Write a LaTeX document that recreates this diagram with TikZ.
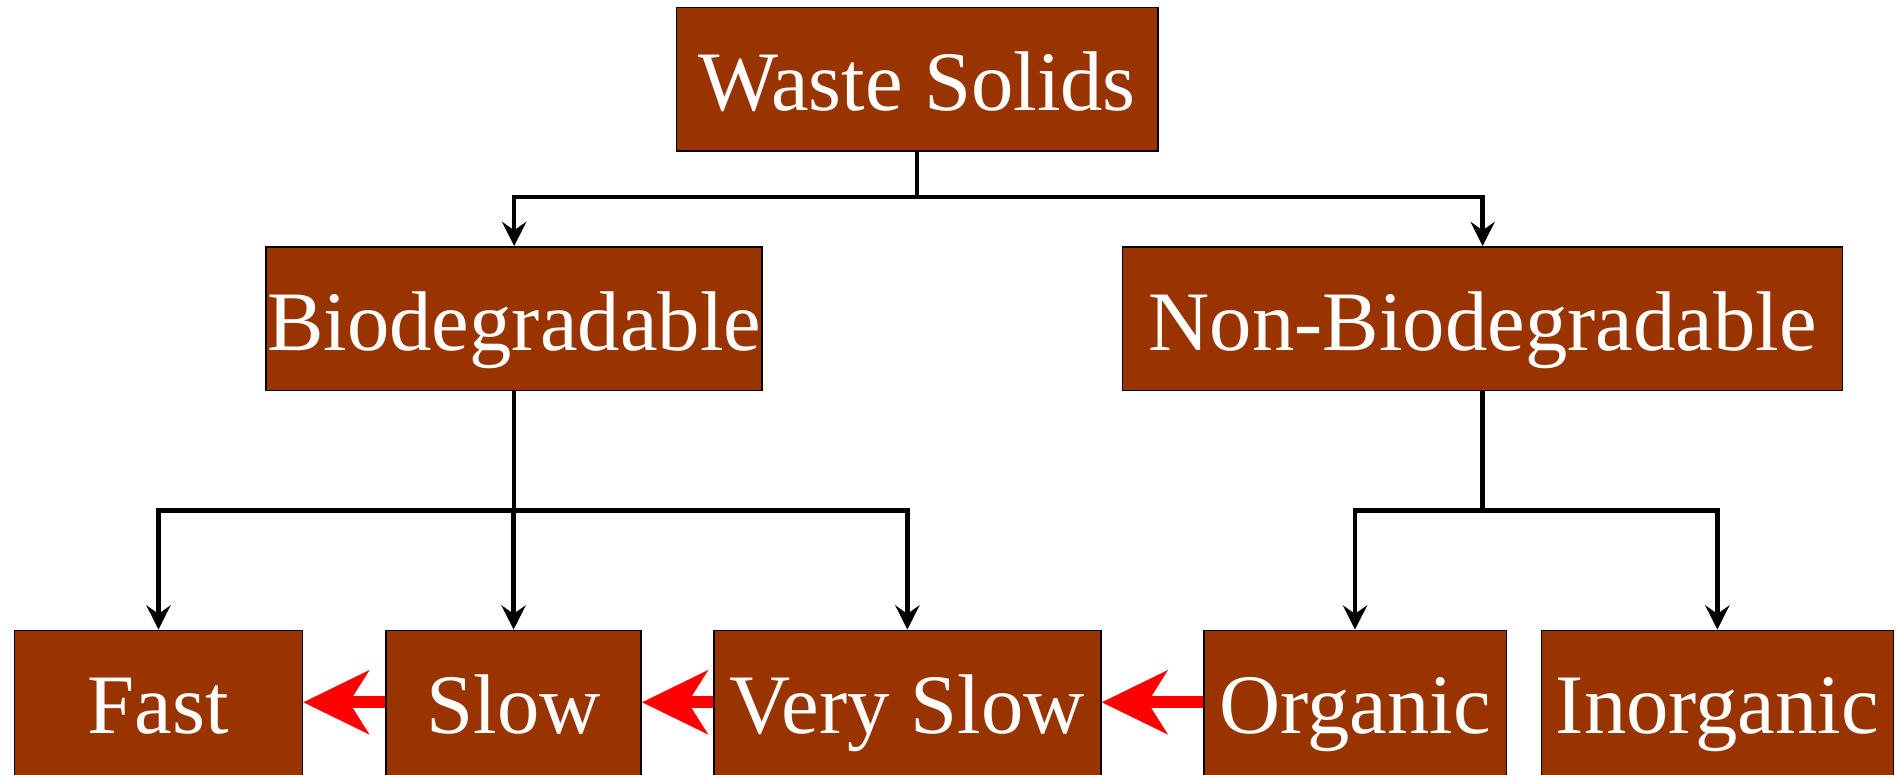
\documentclass[tikz,border=0pt]{standalone}
\usepackage{fontspec}
\setmainfont{Liberation Serif}
\usetikzlibrary{arrows.meta}
\definecolor{boxbrown}{RGB}{153,51,0}
\begin{document}
\begin{tikzpicture}[x=0.5pt,y=-0.5pt,
  box/.style={draw=black,line width=0.6pt,fill=boxbrown,text=white,
    font=\fontsize{35}{40}\selectfont,inner sep=0pt,minimum height=59.5pt,
    text height=26pt,text depth=0pt,anchor=center},
  lowbox/.style={box,minimum height=62pt,text height=23.5pt},
  conn/.style={draw=black,line width=1.8pt,-{Stealth[length=10pt,width=10pt,inset=3.5pt]}},
  link/.style={draw=black,line width=1.8pt},
  redarrow/.style={draw=red,line width=5pt,-{Stealth[length=27pt,width=26pt,inset=8pt]}}]
\useasboundingbox (0,0) rectangle (1568,640);

\node[box,minimum width=199pt] (ws) at (758,65.5) {Waste Solids};
\node[box,minimum width=205pt] (bio) at (425,263.5) {Biodegradable};
\node[box,minimum width=297.5pt] (nbio) at (1225.5,263.5) {Non-Biodegradable};

\node[lowbox,minimum width=119pt] (fast) at (131,583) {Fast};
\node[lowbox,minimum width=105.5pt] (slow) at (424.5,583) {Slow};
\node[lowbox,minimum width=160pt] (vslow) at (750,583) {Very Slow};
\node[lowbox,minimum width=125pt] (org) at (1120,583) {Organic};
\node[lowbox,minimum width=145.5pt] (inorg) at (1419.5,583) {Inorganic};

\coordinate (j1) at (758,163);
\coordinate (j2) at (425,422);
\coordinate (j3) at (1225.5,422);

\draw[link] (ws.south) -- (j1);
\draw[conn] (j1) -| (bio.north);
\draw[conn] (j1) -| (nbio.north);

\draw[link] (bio.south) -- (j2);
\draw[conn] (j2) -| (fast.north);
\draw[conn] (j2) -| (slow.north);
\draw[conn] (j2) -| (vslow.north);

\draw[link] (nbio.south) -- (j3);
\draw[conn] (j3) -| (org.north);
\draw[conn] (j3) -| (inorg.north);

\draw[redarrow] ([yshift=1.25pt]slow.west) -- ([yshift=1.25pt]fast.east);
\draw[redarrow] ([yshift=1.25pt]vslow.west) -- ([yshift=1.25pt]slow.east);
\draw[redarrow] ([yshift=1.25pt]org.west) -- ([yshift=1.25pt]vslow.east);
\end{tikzpicture}
\end{document}
